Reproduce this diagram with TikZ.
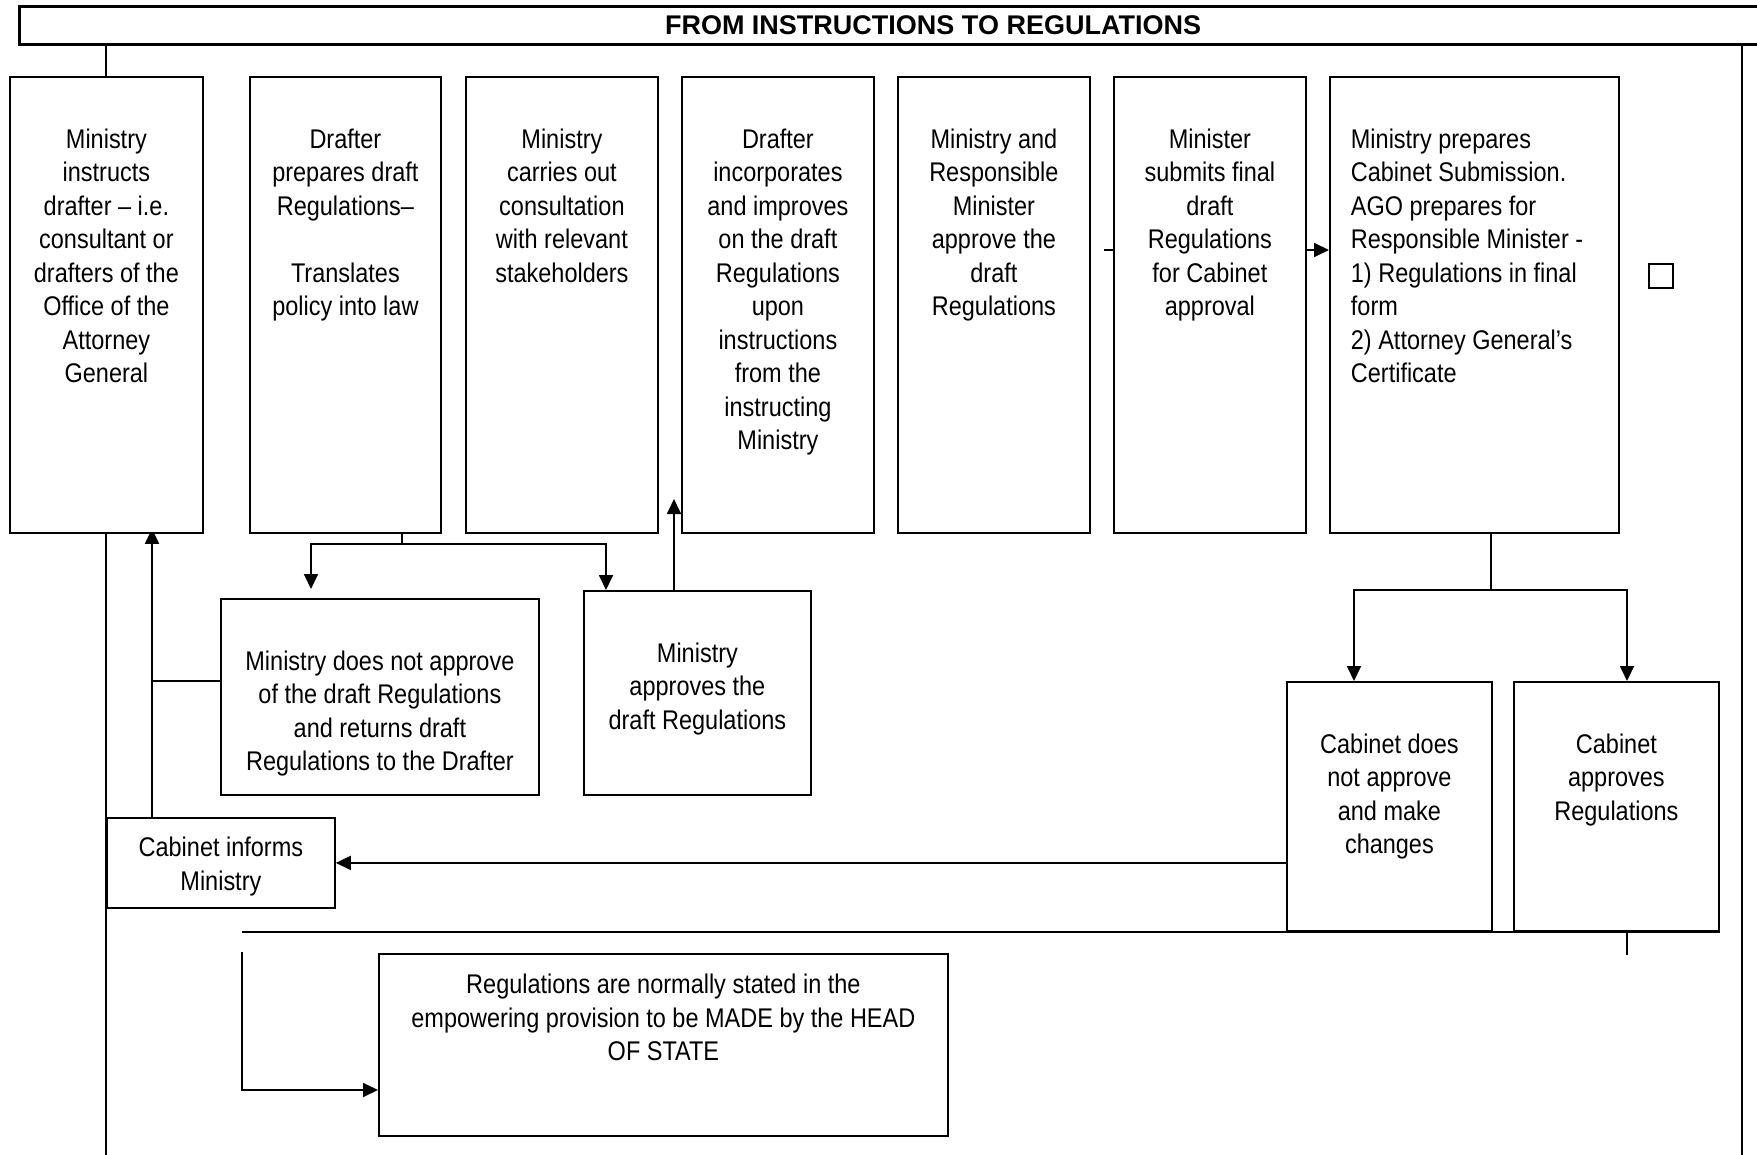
\documentclass[tikz,border=0pt]{standalone}
\usepackage{fontspec}
\setmainfont{Liberation Sans}[FakeStretch=0.87]
\newfontfamily\titlefont{Liberation Sans}
\usetikzlibrary{arrows.meta}
\pgfdeclarelayer{background}
\pgfsetlayers{background,main}
\newcommand{\cellC}[4]{\parbox[c][#2][t]{#1}{\vspace*{#3}\centering\strut#4\par}}
\newcommand{\cellL}[5]{\parbox[c][#2][t]{#1}{\vspace*{#3}\raggedright\leftskip=#4\relax\strut#5\par}}
\begin{document}
\begin{tikzpicture}[x=0.5pt,y=-0.5pt,
  stepbox/.style={draw, line width=0.9pt, fill=white, inner sep=0pt, anchor=north west,
    font=\fontsize{13.5pt}{16.75pt}\selectfont},
  conn/.style={line width=0.9pt},
  arr/.style={line width=0.9pt,-{Triangle[length=7.5pt,width=7pt]}},
]
\useasboundingbox (0,0) rectangle (1757,1155);

% title
\node[draw, line width=1.5pt, inner sep=0pt, minimum width=900pt, minimum height=19pt, anchor=north west] (titlebox) at (18,5) {};
\node[font=\titlefont\bfseries\fontsize{13.5pt}{16pt}\selectfont, anchor=base, inner sep=0pt] (ttl) at (933,35) {FROM INSTRUCTIONS TO REGULATIONS};

% top row
\node[stepbox] (b1) at (9,76) {\cellC{96.5pt}{228pt}{24pt}{Ministry\\instructs\\drafter – i.e.\\consultant or\\drafters of the\\Office of the\\Attorney\\General}};
\node[stepbox] (b2) at (249,76) {\cellC{95.5pt}{228pt}{24pt}{Drafter\\prepares draft\\Regulations–\\[16.75pt]Translates\\policy into law}};
\node[stepbox] (b3) at (465,76) {\cellC{96pt}{228pt}{24pt}{Ministry\\carries out\\consultation\\with relevant\\stakeholders}};
\node[stepbox] (b4) at (681,76) {\cellC{96pt}{228pt}{24pt}{Drafter\\incorporates\\and improves\\on the draft\\Regulations\\upon\\instructions\\from the\\instructing\\Ministry}};
\node[stepbox] (b5) at (897,76) {\cellC{96pt}{228pt}{24pt}{Ministry and\\Responsible\\Minister\\approve the\\draft\\Regulations}};
\node[stepbox] (b6) at (1113,76) {\cellC{96pt}{228pt}{24pt}{Minister\\submits final\\draft\\Regulations\\for Cabinet\\approval}};
\node[stepbox] (b7) at (1329,76) {\cellL{144.5pt}{228pt}{24pt}{10.5pt}{Ministry prepares\\Cabinet Submission.\\AGO prepares for\\Responsible Minister -\\1) Regulations in final\\form\\2) Attorney General’s\\Certificate}};
\node[draw, line width=0.8pt, inner sep=0pt, minimum size=12pt] (sq) at (1661,276) {};

% middle row
\node[stepbox] (mdna) at (220,598) {\cellC{159pt}{98pt}{24pt}{Ministry does not approve\\of the draft Regulations\\and returns draft\\Regulations to the Drafter}};
\node[stepbox] (ma) at (583,590) {\cellC{113.5pt}{102pt}{24pt}{Ministry\\approves the\\draft Regulations}};
\node[stepbox] (ci) at (106,817) {\cellC{114pt}{45pt}{7.75pt}{Cabinet informs\\Ministry}};
\node[stepbox] (cdna) at (1286,681) {\cellC{102.5pt}{124.5pt}{24pt}{Cabinet does\\not approve\\and make\\changes}};
\node[stepbox] (ca) at (1513,681) {\cellC{102.5pt}{124.5pt}{24pt}{Cabinet\\approves\\Regulations}};
\node[stepbox] (reg) at (378,953) {\cellC{284.5pt}{91pt}{8.25pt}{Regulations are normally stated in the\\empowering provision to be MADE by the HEAD\\OF STATE}};

% helper coordinates
\coordinate (j2) at (402,544);
\coordinate (xA) at (311,0);
\coordinate (xB) at (606,0);
\coordinate (xC) at (674,0);
\coordinate (tipC) at (674,499);
\coordinate (xD) at (152,0);
\coordinate (yD) at (0,681);
\coordinate (j7) at (1491,590);
\coordinate (xE) at (1354,0);
\coordinate (xF) at (1627,0);
\coordinate (yG) at (0,250);
\coordinate (xH) at (242,0);
\coordinate (topI) at (242,952);
\coordinate (yI) at (0,1090);
\coordinate (fl1) at (106,43);
\coordinate (fl2) at (106,1160);
\coordinate (fr1) at (1742,43);
\coordinate (fr2) at (1742,1160);

\begin{pgfonlayer}{background}
  % frame
  \draw[conn] (fl1) -- (fl2);
  \draw[conn] (fr1) -- (fr2);
  % drafter -> two outcomes
  \draw[conn] (j2 |- b2.south) -- (j2);
  \draw[arr, shorten >=4.5pt] (j2) -| (xA |- mdna.north);
  \draw[arr] (j2) -| (xB |- ma.north);
  % approves -> up
  \draw[arr] (xC |- ma.north) -- (tipC);
  % not approve -> back to ministry
  \draw[conn] (mdna.west |- yD) -- (xD |- yD);
  \draw[arr, shorten >=-2.5pt] (xD |- ci.north) -- (xD |- b1.south);
  % cabinet does not approve -> cabinet informs
  \draw[arr] (cdna.west |- ci.east) -- (ci.east);
  % submission -> two outcomes
  \draw[conn] (j7 |- b7.south) -- (j7);
  \draw[arr] (j7) -| (xE |- cdna.north);
  \draw[arr] (j7) -| (xF |- ca.north);
  % b6 -> b7
  \draw[arr] (b6.east |- yG) -- (b7.west |- yG);
  \draw[conn] (b6.west |- yG) -- ++(-9,0);
  % bottom lines
  \draw[conn] (xH |- cdna.south) -- (ca.south east);
  \draw[conn] (xF |- ca.south) -- ++(0,23);
  \draw[arr] (topI) |- (reg.west |- yI);
\end{pgfonlayer}
\end{tikzpicture}
\end{document}
